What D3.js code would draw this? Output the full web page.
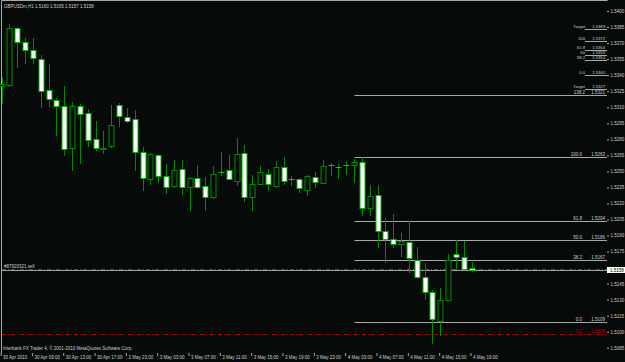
<!DOCTYPE html>
<html>
<head>
<meta charset="utf-8">
<script src="https://cdn.jsdelivr.net/npm/d3@7"></script>
<style>
html,body{margin:0;padding:0;background:#060a08;}
svg{display:block;}
text{font-family:"Liberation Sans",Arial,sans-serif;font-size:4.5px;fill:#cfcfcf;}
</style>
</head>
<body>
<div id="chart"></div>
<script>
// GBPUSDm H1, 30 Apr 05:00 .. 4 May 19:00 (61 bars)
const open = [
  1.5330, 1.5331, 1.5384, 1.5371, 1.5364, 1.5355, 1.5326, 1.5317, 1.5311, 1.5272,
  1.5311, 1.5305, 1.5280, 1.5271, 1.5274, 1.5312, 1.5301, 1.5299, 1.5268, 1.5243,
  1.5265, 1.5246, 1.5236, 1.5252, 1.5235, 1.5244, 1.5236, 1.5226, 1.5249, 1.5251,
  1.5241, 1.5267, 1.5226, 1.5238, 1.5248, 1.5236, 1.5254, 1.5243, 1.5243, 1.5233,
  1.5245, 1.5239, 1.5256, 1.5254, 1.5256, 1.5256, 1.5259, 1.5216, 1.5228, 1.5194,
  1.5187, 1.5182, 1.5184, 1.5167, 1.5151, 1.5137, 1.5110, 1.5130, 1.5173, 1.5170,
  1.5160];
const high = [
  1.5338, 1.5388, 1.5385, 1.5375, 1.5375, 1.5359, 1.5350, 1.5319, 1.5330, 1.5315,
  1.5313, 1.5308, 1.5297, 1.5288, 1.5312, 1.5314, 1.5309, 1.5307, 1.5273, 1.5267,
  1.5266, 1.5257, 1.5261, 1.5261, 1.5245, 1.5256, 1.5245, 1.5255, 1.5268, 1.5265,
  1.5281, 1.5275, 1.5247, 1.5255, 1.5252, 1.5260, 1.5263, 1.5246, 1.5244, 1.5247,
  1.5249, 1.5261, 1.5258, 1.5257, 1.5259, 1.5262, 1.5263, 1.5237, 1.5237, 1.5206,
  1.5210, 1.5192, 1.5204, 1.5179, 1.5164, 1.5139, 1.5141, 1.5173, 1.5186, 1.5185,
  1.5165];
const low = [
  1.5314, 1.5330, 1.5348, 1.5351, 1.5351, 1.5310, 1.5311, 1.5284, 1.5265, 1.5251,
  1.5258, 1.5274, 1.5270, 1.5267, 1.5273, 1.5292, 1.5296, 1.5251, 1.5233, 1.5238,
  1.5240, 1.5230, 1.5235, 1.5229, 1.5214, 1.5234, 1.5214, 1.5225, 1.5247, 1.5243,
  1.5237, 1.5222, 1.5214, 1.5238, 1.5233, 1.5235, 1.5238, 1.5237, 1.5231, 1.5228,
  1.5235, 1.5239, 1.5247, 1.5244, 1.5248, 1.5240, 1.5209, 1.5209, 1.5179, 1.5165,
  1.5179, 1.5171, 1.5156, 1.5150, 1.5131, 1.5089, 1.5097, 1.5130, 1.5159, 1.5159,
  1.5157];
const close = [
  1.5332, 1.5384, 1.5371, 1.5364, 1.5356, 1.5325, 1.5318, 1.5311, 1.5271, 1.5311,
  1.5304, 1.5279, 1.5272, 1.5272, 1.5293, 1.5302, 1.5297, 1.5268, 1.5244, 1.5266,
  1.5246, 1.5235, 1.5251, 1.5235, 1.5244, 1.5235, 1.5226, 1.5248, 1.5249, 1.5243,
  1.5266, 1.5226, 1.5238, 1.5249, 1.5238, 1.5254, 1.5241, 1.5243, 1.5234, 1.5246,
  1.5240, 1.5255, 1.5256, 1.5254, 1.5256, 1.5259, 1.5216, 1.5227, 1.5194, 1.5187,
  1.5182, 1.5185, 1.5169, 1.5151, 1.5137, 1.5112, 1.5130, 1.5167, 1.5170, 1.5159,
  1.5158];

const timeLabels = ["30 Apr 2010", "30 Apr 09:00", "30 Apr 13:00", "30 Apr 17:00",
  "2 May 23:00", "3 May 03:00", "3 May 07:00", "3 May 11:00", "3 May 15:00",
  "3 May 19:00", "3 May 23:00", "4 May 03:00", "4 May 07:00", "4 May 11:00",
  "4 May 15:00", "4 May 19:00"];
const timeTickBars = [0, 4, 8, 12, 16, 20, 24, 28, 32, 36, 40, 44, 48, 52, 56, 60];

const priceTicks = [1.5400, 1.5385, 1.5370, 1.5355, 1.5340, 1.5325, 1.5310, 1.5295,
  1.5280, 1.5265, 1.5250, 1.5235, 1.5220, 1.5205, 1.5190, 1.5175, 1.5145,
  1.5130, 1.5115, 1.5100, 1.5085];

// fibonacci on the last drop
const fibNames = ["100.0", "61.8", "50.0", "38.2", "0.0"];
const fibPrices = [1.5263, 1.5204, 1.5186, 1.5167, 1.5109];
const fibStartBar = 45;

// small fib set up top right
const topFibNames = ["Target", "100", "61.8", "50", "38.2", "0.0", "Target"];
const topFibPrices = [1.5383, 1.5372, 1.5364, 1.5359, 1.5354, 1.5340, 1.5327];
const extName = "138.2", extPrice = 1.5321;

const bid = 1.5158;
const orderPrice = 1.5159, orderLabel = "#87920321 sell";
const stopName = "0.0", stopPrice = 1.5098;
const header = "GBPUSDm,H1  1.5160 1.5165 1.5157 1.5158";
const footer = "Interbank FX Trader 4, \u00a9 2001-2010 MetaQuotes Software Corp.";

const W = 625, H = 362, right = 607, bottom = 353;

const svg = d3.select("#chart").append("svg")
    .attr("width", W)
    .attr("height", H);

svg.append("rect").attr("width", W).attr("height", H).attr("fill", "#060a08");

const x = d3.scaleLinear().domain([-0.2, 77.3]).range([0, right]);
const y = d3.scaleLinear().domain([1.5081, 1.54094]).range([352, 1]);
const py = v => Math.round(y(v)) + 0.5;
const px = i => Math.round(x(i)) + 0.5;

// frame
svg.append("path")
    .attr("d", `M1.5,${bottom + 0.5}V0.5H${right + 0.5}`)
    .attr("fill", "none").attr("stroke", "#a8a8a8");

// full width lines: stop, bid, order
svg.append("line")
    .attr("x1", 2).attr("x2", right).attr("y1", py(stopPrice)).attr("y2", py(stopPrice))
    .attr("stroke", "#b00000").attr("stroke-dasharray", "4,2,1,2");
svg.append("line")
    .attr("x1", 2).attr("x2", right).attr("y1", py(bid)).attr("y2", py(bid))
    .attr("stroke", "#9a9a9a");
svg.append("line")
    .attr("x1", 2).attr("x2", right).attr("y1", py(orderPrice)).attr("y2", py(orderPrice))
    .attr("stroke", "#008a00").attr("stroke-dasharray", "4,2,1,2");
svg.append("text").attr("x", 4).attr("y", py(orderPrice) - 2).text(orderLabel);

// fib lines
const fx = Math.round(x(fibStartBar)) + 0.5;
const fib = svg.append("g");
fibPrices.forEach((p, i) => {
    fib.append("line").attr("x1", fx).attr("x2", right)
        .attr("y1", py(p)).attr("y2", py(p)).attr("stroke", "#a8a8a8");
    fib.append("text").attr("x", 582).attr("y", py(p) - 1.5)
        .attr("text-anchor", "end").text(fibNames[i]);
    fib.append("text").attr("x", 605).attr("y", py(p) - 1.5)
        .attr("text-anchor", "end").text(p.toFixed(4));
});
fib.append("line").attr("x1", fx).attr("x2", right)
    .attr("y1", py(extPrice)).attr("y2", py(extPrice)).attr("stroke", "#a8a8a8");
fib.append("text").attr("x", 585).attr("y", py(extPrice) - 1.5)
    .attr("text-anchor", "end").text(extName);
fib.append("text").attr("x", 605).attr("y", py(extPrice) - 1.5)
    .attr("text-anchor", "end").text(extPrice.toFixed(4));
topFibPrices.forEach((p, i) => {
    fib.append("line").attr("x1", 585).attr("x2", right)
        .attr("y1", py(p)).attr("y2", py(p)).attr("stroke", "#a8a8a8");
    fib.append("text").attr("x", 585).attr("y", py(p) - 1.2)
        .attr("text-anchor", "end").style("font-size", "4.2px").text(topFibNames[i]);
    fib.append("text").attr("x", 605).attr("y", py(p) - 1.2)
        .attr("text-anchor", "end").style("font-size", "4.2px").text(p.toFixed(4));
});
fib.append("text").attr("x", 582).attr("y", py(stopPrice) - 1.5)
    .attr("text-anchor", "end").style("fill", "#c00000").text(stopName);
fib.append("text").attr("x", 605).attr("y", py(stopPrice) - 1.5)
    .attr("text-anchor", "end").style("fill", "#c00000").text(stopPrice.toFixed(4));

// candles
const bars = d3.range(open.length);
const candles = svg.append("g");
candles.selectAll("line.wick").data(bars).join("line")
    .attr("class", "wick")
    .attr("x1", px).attr("x2", px)
    .attr("y1", i => Math.round(y(high[i]))).attr("y2", i => Math.round(y(low[i])) + 1)
    .attr("stroke", "#008a00");
candles.selectAll("rect.body").data(bars.filter(i => open[i] !== close[i])).join("rect")
    .attr("class", "body")
    .attr("x", i => px(i) - 2.5)
    .attr("width", 5)
    .attr("y", i => py(Math.max(open[i], close[i])))
    .attr("height", i => py(Math.min(open[i], close[i])) - py(Math.max(open[i], close[i])))
    .attr("fill", i => close[i] < open[i] ? "#ffffff" : "#060a08")
    .attr("stroke", i => close[i] < open[i] ? "#00b400" : "#008a00");
candles.selectAll("line.doji").data(bars.filter(i => open[i] === close[i])).join("line")
    .attr("class", "doji")
    .attr("x1", i => px(i) - 3).attr("x2", i => px(i) + 3)
    .attr("y1", i => py(open[i])).attr("y2", i => py(open[i]))
    .attr("stroke", "#00d000");

// price axis
const yAxis = d3.axisRight(y).tickValues(priceTicks)
    .tickFormat(d3.format(".4f")).tickSize(2).tickSizeOuter(0).tickPadding(1.5);
const ya = svg.append("g").attr("transform", `translate(${right},0)`).call(yAxis);
ya.select(".domain").remove();
ya.selectAll("line").attr("stroke", "#a8a8a8");
ya.selectAll("text").attr("font-size", null).attr("font-family", null).attr("fill", null);

// time axis
const xAxis = d3.axisBottom(x).tickValues(timeTickBars)
    .tickFormat((d, i) => timeLabels[i]).tickSize(3).tickSizeOuter(0);
const xa = svg.append("g").attr("transform", `translate(-1,${bottom})`).call(xAxis);
xa.select(".domain").remove();
xa.selectAll("line").attr("stroke", "#a8a8a8");
xa.selectAll("text").attr("font-size", null).attr("font-family", null).attr("fill", null)
    .attr("text-anchor", "start").attr("x", 2).attr("y", 2.5);

// current price box
svg.append("rect").attr("x", right).attr("y", py(bid) - 3.5)
    .attr("width", W - right).attr("height", 6).attr("fill", "#ffffff");
svg.append("text").attr("x", 610).attr("y", py(bid) + 1.6)
    .style("fill", "#000").text(bid.toFixed(4));

svg.append("text").attr("x", 4).attr("y", 7.5).text(header);
svg.append("text").attr("x", 3).attr("y", 349.5).text(footer);
</script>
</body>
</html>
